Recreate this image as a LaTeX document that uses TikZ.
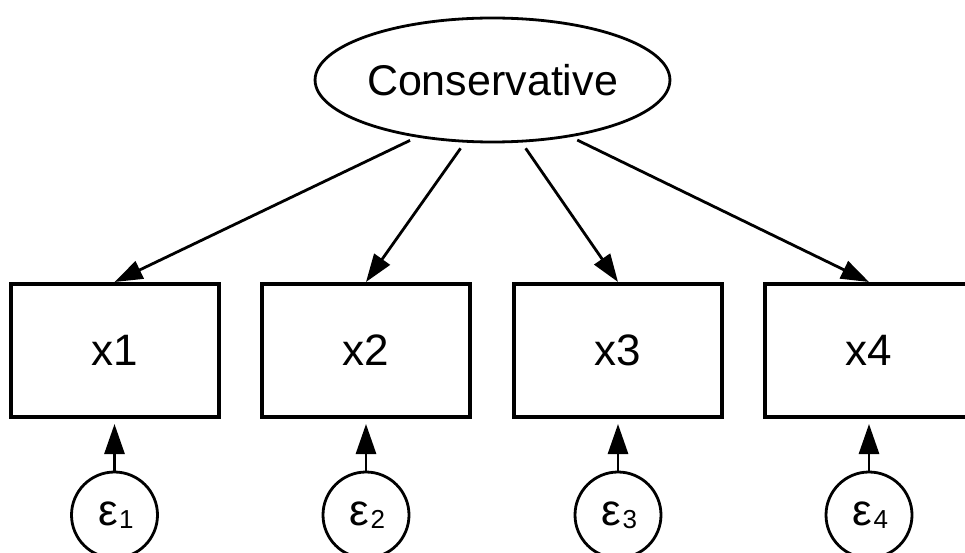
\documentclass[tikz,border=0pt]{standalone}
\usepackage{fontspec}
\setmainfont{Liberation Sans}
\usetikzlibrary{shapes.geometric,arrows.meta}
\begin{document}
\begin{tikzpicture}[x=1pt,y=-1pt,
  latent/.style={ellipse,draw,line width=2.8pt,minimum width=275pt,minimum height=124pt,inner sep=0pt,font=\fontsize{43}{50}\selectfont},
  obs/.style={rectangle,draw,line width=4pt,minimum width=208pt,minimum height=133pt,inner sep=0pt,font=\fontsize{44}{50}\selectfont},
  err/.style={circle,draw,line width=2.8pt,minimum size=86pt,inner sep=0pt,font=\fontsize{44}{50}\selectfont},
  loadarrow/.style={line width=2.8pt,-{Triangle[length=28pt,width=19pt]},shorten <=7pt},
  errarrow/.style={line width=2.8pt,-{Triangle[length=30pt,width=20pt]},shorten >=5pt}
]
\useasboundingbox (0,0) rectangle (965,553);
\clip (0,0) rectangle (965,553);
\node[latent] (C) at (492.5,80) {Conservative};
\node[obs] (x1) at (114.5,350.5) {x1};
\node[obs] (x2) at (366,350.5) {x2};
\node[obs] (x3) at (618,350.5) {x3};
\node[obs] (x4) at (869,350.5) {x4};
\newcommand{\epsub}[1]{\hspace*{3pt}ε\kern1pt\raisebox{-3pt}{\fontsize{26}{26}\selectfont #1}}
\node[err] (e1) at (114.5,515) {\epsub{1}};
\node[err] (e2) at (366,515) {\epsub{2}};
\node[err] (e3) at (618,515) {\epsub{3}};
\node[err] (e4) at (869,515) {\epsub{4}};
\draw[loadarrow] (C.217) -- (x1.north);
\draw[loadarrow] (C.246.5) -- (x2.north);
\draw[loadarrow] (C.295) -- (x3.north);
\draw[loadarrow] (C.324) -- (x4.north);
\draw[errarrow] (e1.north) -- (x1.south);
\draw[errarrow] (e2.north) -- (x2.south);
\draw[errarrow] (e3.north) -- (x3.south);
\draw[errarrow] (e4.north) -- (x4.south);
\end{tikzpicture}
\end{document}
